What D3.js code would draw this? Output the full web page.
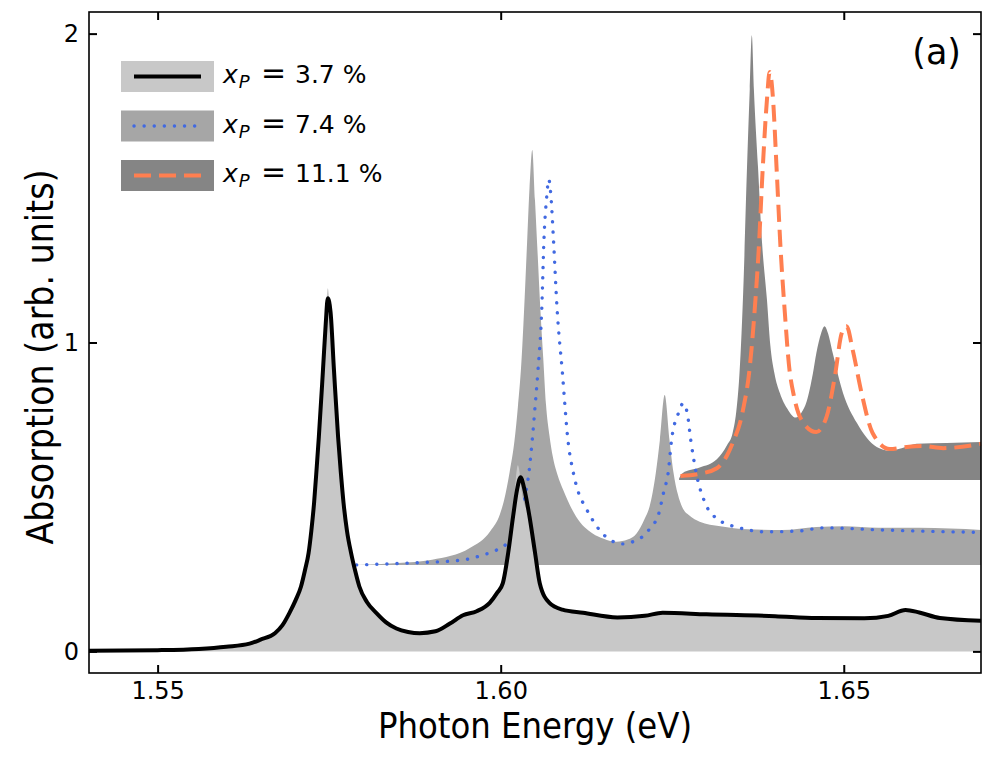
<!DOCTYPE html>
<html>
<head>
<meta charset="utf-8">
<script src="https://cdn.jsdelivr.net/npm/d3@7"></script>
<style>
body { margin: 0; background: #fff; }
svg text { font-family: 'DejaVu Sans', sans-serif; fill: #000; }
</style>
</head>
<body>
<div id="content"></div>
<script>
// Absorption spectra, [photon energy (eV), absorption]. Fill = shaded spectrum,
// line = overlaid curve. Each series sits on its own baseline.
var fill1 = [
  [1.5400, 0.001], [1.5500, 0.003], [1.5560, 0.007], [1.5600, 0.014],
  [1.5634, 0.024], [1.5650, 0.037], [1.5671, 0.058], [1.5682, 0.084],
  [1.5692, 0.122], [1.5701, 0.163], [1.5709, 0.208], [1.5720, 0.318],
  [1.5728, 0.480], [1.5735, 0.700], [1.5741, 0.930], [1.5745, 1.080],
  [1.5748, 1.176], [1.5752, 1.080], [1.5757, 0.911], [1.5763, 0.690],
  [1.5771, 0.475], [1.5782, 0.312], [1.5794, 0.205], [1.5805, 0.158],
  [1.5819, 0.122], [1.5833, 0.093], [1.5848, 0.073], [1.5865, 0.062],
  [1.5882, 0.058], [1.5905, 0.064], [1.5926, 0.089], [1.5945, 0.116],
  [1.5965, 0.129], [1.5984, 0.156], [1.6003, 0.220], [1.6018, 0.440],
  [1.6025, 0.603], [1.6032, 0.500], [1.6042, 0.430], [1.6057, 0.215],
  [1.6071, 0.155], [1.6120, 0.122], [1.6170, 0.108], [1.6236, 0.123],
  [1.6400, 0.112], [1.6530, 0.105], [1.6590, 0.132], [1.6640, 0.106],
  [1.6700, 0.097]
];
var line1 = [
  [1.5400, 0.002], [1.5500, 0.004], [1.5560, 0.008], [1.5600, 0.015],
  [1.5634, 0.025], [1.5650, 0.038], [1.5671, 0.059], [1.5682, 0.085],
  [1.5692, 0.124], [1.5701, 0.165], [1.5709, 0.210], [1.5715, 0.265],
  [1.5720, 0.318], [1.5724, 0.390], [1.5728, 0.480], [1.5732, 0.600],
  [1.5735, 0.695], [1.5741, 0.911], [1.5745, 1.060], [1.5748, 1.143],
  [1.5752, 1.100], [1.5757, 0.911], [1.5763, 0.695], [1.5767, 0.580],
  [1.5771, 0.480], [1.5776, 0.390], [1.5782, 0.318], [1.5788, 0.260],
  [1.5794, 0.210], [1.5805, 0.160], [1.5819, 0.124], [1.5833, 0.094],
  [1.5848, 0.074], [1.5865, 0.063], [1.5882, 0.059], [1.5905, 0.065],
  [1.5926, 0.090], [1.5945, 0.117], [1.5965, 0.130], [1.5984, 0.157],
  [1.5995, 0.190], [1.6003, 0.220], [1.6011, 0.320], [1.6018, 0.436],
  [1.6024, 0.525], [1.6029, 0.564], [1.6034, 0.530], [1.6042, 0.436],
  [1.6050, 0.320], [1.6057, 0.220], [1.6071, 0.157], [1.6090, 0.135],
  [1.6120, 0.125], [1.6170, 0.110], [1.6210, 0.115], [1.6236, 0.125],
  [1.6300, 0.120], [1.6400, 0.114], [1.6460, 0.108], [1.6530, 0.107],
  [1.6565, 0.115], [1.6590, 0.134], [1.6610, 0.126], [1.6640, 0.108],
  [1.6700, 0.099]
];
var fill2 = [
  [1.5790, 0.280], [1.5850, 0.286], [1.5900, 0.297], [1.5955, 0.335],
  [1.5985, 0.390], [1.5999, 0.445], [1.6005, 0.490], [1.6013, 0.580],
  [1.6020, 0.680], [1.6025, 0.790], [1.6030, 0.930], [1.6034, 1.100],
  [1.6038, 1.300], [1.6042, 1.500], [1.6046, 1.623], [1.6050, 1.460],
  [1.6054, 1.280], [1.6058, 1.100], [1.6062, 0.950], [1.6066, 0.800],
  [1.6071, 0.700], [1.6076, 0.630], [1.6083, 0.570], [1.6091, 0.523],
  [1.6110, 0.436], [1.6134, 0.382], [1.6150, 0.365], [1.6169, 0.355],
  [1.6185, 0.362], [1.6198, 0.382], [1.6210, 0.430], [1.6217, 0.469],
  [1.6226, 0.577], [1.6232, 0.684], [1.6239, 0.830], [1.6246, 0.684],
  [1.6252, 0.577], [1.6258, 0.510], [1.6265, 0.465], [1.6275, 0.440],
  [1.6290, 0.420], [1.6320, 0.405], [1.6360, 0.395], [1.6410, 0.393],
  [1.6460, 0.403], [1.6500, 0.405], [1.6550, 0.400], [1.6610, 0.400],
  [1.6700, 0.393]
];
var line2 = [
  [1.5790, 0.280], [1.5877, 0.287], [1.5945, 0.296], [1.5974, 0.312],
  [1.5994, 0.328], [1.6009, 0.350], [1.6022, 0.400], [1.6032, 0.470],
  [1.6041, 0.577], [1.6046, 0.684], [1.6050, 0.790], [1.6054, 0.900],
  [1.6060, 1.116], [1.6063, 1.330], [1.6067, 1.470], [1.6070, 1.528],
  [1.6073, 1.480], [1.6077, 1.330], [1.6082, 1.116], [1.6090, 0.900],
  [1.6098, 0.684], [1.6106, 0.577], [1.6114, 0.510], [1.6123, 0.469],
  [1.6144, 0.393], [1.6160, 0.360], [1.6178, 0.348], [1.6195, 0.357],
  [1.6207, 0.372], [1.6220, 0.405], [1.6229, 0.436], [1.6238, 0.520],
  [1.6244, 0.577], [1.6249, 0.684], [1.6259, 0.771], [1.6266, 0.803],
  [1.6272, 0.770], [1.6277, 0.684], [1.6285, 0.577], [1.6298, 0.480],
  [1.6315, 0.430], [1.6348, 0.400], [1.6388, 0.387], [1.6436, 0.390],
  [1.6470, 0.400], [1.6557, 0.393], [1.6700, 0.385]
];
var fill3 = [
  [1.6260, 0.560], [1.6265, 0.577], [1.6290, 0.595], [1.6315, 0.622],
  [1.6330, 0.668], [1.6338, 0.707], [1.6344, 0.790], [1.6348, 0.900],
  [1.6351, 1.030], [1.6354, 1.200], [1.6359, 1.568], [1.6363, 1.820],
  [1.6366, 1.995], [1.6369, 1.820], [1.6375, 1.568], [1.6381, 1.320],
  [1.6388, 1.140], [1.6393, 0.990], [1.6399, 0.900], [1.6407, 0.836],
  [1.6418, 0.785], [1.6430, 0.757], [1.6438, 0.772], [1.6446, 0.810],
  [1.6455, 0.900], [1.6460, 0.965], [1.6467, 1.030], [1.6472, 1.053],
  [1.6477, 1.030], [1.6484, 0.965], [1.6499, 0.836], [1.6519, 0.740],
  [1.6548, 0.662], [1.6567, 0.650], [1.6590, 0.662], [1.6606, 0.672],
  [1.6650, 0.675], [1.6700, 0.678]
];
var line3 = [
  [1.6262, 0.568], [1.6290, 0.575], [1.6315, 0.593], [1.6330, 0.635],
  [1.6338, 0.674], [1.6353, 0.780], [1.6363, 0.920], [1.6370, 1.100],
  [1.6376, 1.300], [1.6382, 1.568], [1.6388, 1.785], [1.6392, 1.876],
  [1.6397, 1.785], [1.6402, 1.568], [1.6408, 1.300], [1.6414, 1.100],
  [1.6420, 0.930], [1.6428, 0.820], [1.6441, 0.740], [1.6460, 0.710],
  [1.6475, 0.760], [1.6487, 0.890], [1.6497, 1.030], [1.6504, 1.053],
  [1.6513, 0.976], [1.6526, 0.836], [1.6542, 0.707], [1.6567, 0.655],
  [1.6592, 0.662], [1.6615, 0.665], [1.6645, 0.658], [1.6700, 0.672]
];
var baselines = [0, 0.28, 0.555];
var labels = ['3.7', '7.4', '11.1'];
var xTicks = [1.55, 1.60, 1.65];
var yTicks = [0, 1, 2];

var fillColors = ['#c8c8c8', '#a6a6a6', '#858585'];
var lineColors = ['#000000', '#4169e1', '#ff7f50'];
var lineWidths = [4, 3.4, 4];
var lineDash = [null, '0.1 10', '17 8'];

// Main SVG container.
var W = 994, H = 769;
var plotL = 89, plotR = 981, plotT = 12, plotB = 673;
var svg = d3.select('#content')
              .append('svg')
              .attr('width', W)
              .attr('height', H);

var x = d3.scaleLinear().domain([1.54, 1.67]).range([plotL, plotR]);
var y = d3.scaleLinear().domain([-0.07, 2.07]).range([plotB, plotT]);

function area(base) {
  return d3.area()
      .x(function(d) { return x(d[0]); })
      .y0(y(base))
      .y1(function(d) { return y(d[1]); })
      .curve(d3.curveMonotoneX);
}
var line = d3.line()
               .x(function(d) { return x(d[0]); })
               .y(function(d) { return y(d[1]); })
               .curve(d3.curveMonotoneX);

var plot = svg.append('g');

function drawFill(data, i) {
  plot.append('path').datum(data).attr('d', area(baselines[i]))
      .attr('fill', fillColors[i]);
}
function drawLine(data, i) {
  plot.append('path').datum(data).attr('d', line)
      .attr('fill', 'none')
      .attr('stroke', lineColors[i])
      .attr('stroke-width', lineWidths[i])
      .attr('stroke-dasharray', lineDash[i])
      .attr('stroke-linecap', i === 1 ? 'round' : 'butt')
      .attr('stroke-linejoin', 'round');
}

// Layer order as in the original figure.
drawFill(fill2, 1);
drawFill(fill3, 2);
drawLine(line3, 2);
drawLine(line2, 1);
drawFill(fill1, 0);
drawLine(line1, 0);

// Axes, ticks pointing inwards on all four sides.
var tickLen = 8;
function styleAxis(g) {
  g.select('.domain').remove();
  g.selectAll('.tick line').attr('stroke', '#000').attr('stroke-width', 2);
  g.selectAll('.tick text').style('font-size', '24px');
}
svg.append('g')
    .attr('transform', 'translate(0,' + plotB + ')')
    .call(d3.axisBottom(x).tickValues(xTicks).tickSize(-tickLen)
              .tickPadding(9).tickFormat(d3.format('.2f')))
    .call(styleAxis);
svg.append('g')
    .attr('transform', 'translate(0,' + plotT + ')')
    .call(d3.axisTop(x).tickValues(xTicks).tickSize(-tickLen).tickFormat(''))
    .call(styleAxis);
svg.append('g')
    .attr('transform', 'translate(' + plotL + ',0)')
    .call(d3.axisLeft(y).tickValues(yTicks).tickSize(-tickLen)
              .tickPadding(10).tickFormat(d3.format('d')))
    .call(styleAxis);
svg.append('g')
    .attr('transform', 'translate(' + plotR + ',0)')
    .call(d3.axisRight(y).tickValues(yTicks).tickSize(-tickLen).tickFormat(''))
    .call(styleAxis);

svg.append('rect')
    .attr('x', plotL).attr('y', plotT)
    .attr('width', plotR - plotL).attr('height', plotB - plotT)
    .attr('fill', 'none').attr('stroke', '#000').attr('stroke-width', 1.6);

// Axis titles.
svg.append('text')
    .attr('x', (plotL + plotR) / 2).attr('y', 738)
    .attr('text-anchor', 'middle')
    .style('font-family', "'DejaVu Sans Condensed', 'DejaVu Sans', sans-serif")
    .style('font-stretch', 'condensed')
    .style('font-size', '36px')
    .text('Photon Energy (eV)');
svg.append('text')
    .attr('transform', 'translate(53,357) rotate(-90)')
    .attr('text-anchor', 'middle')
    .style('font-family', "'DejaVu Sans Condensed', 'DejaVu Sans', sans-serif")
    .style('font-stretch', 'condensed')
    .style('font-size', '37px')
    .text('Absorption (arb. units)');

// Panel label.
svg.append('text')
    .attr('x', 961).attr('y', 64)
    .attr('text-anchor', 'end')
    .style('font-size', '35px')
    .text('(a)');

// Legend.
var legend = svg.append('g');
labels.forEach(function(lab, i) {
  var ly = 61 + i * 49.5;
  legend.append('rect')
      .attr('x', 121).attr('y', ly).attr('width', 93).attr('height', 31)
      .attr('fill', fillColors[i]);
  legend.append('line')
      .attr('x1', 134).attr('x2', 201)
      .attr('y1', ly + 15.5).attr('y2', ly + 15.5)
      .attr('stroke', lineColors[i])
      .attr('stroke-width', lineWidths[i])
      .attr('stroke-dasharray', lineDash[i])
      .attr('stroke-linecap', i === 1 ? 'round' : 'butt');
  var t = legend.append('text')
              .attr('x', 223).attr('y', ly + 22)
              .style('font-size', '25px');
  t.append('tspan').style('font-style', 'italic').text('x');
  t.append('tspan').style('font-style', 'italic').style('font-size', '18px')
      .attr('dy', 5).attr('dx', 1).text('P');
  t.append('tspan').attr('x', 261).attr('dy', -5).style('font-size', '30px')
      .text('=');
  t.append('tspan').attr('x', 295).text(lab);
  t.append('tspan').attr('dx', 8).text('%');
});
</script>
</body>
</html>
